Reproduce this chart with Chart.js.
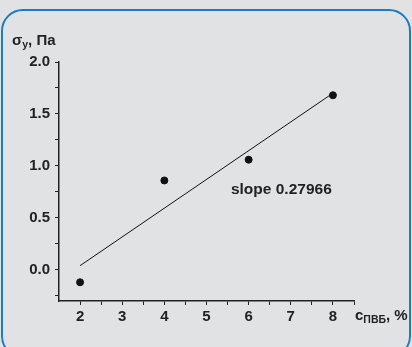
<!DOCTYPE html>
<html>
<head>
<meta charset="utf-8">
<script src="https://cdn.jsdelivr.net/npm/chart.js@4/dist/chart.umd.min.js"></script>
<style>
  html, body { margin: 0; padding: 0; background: #e1e2e4; }
  #wrap { position: relative; width: 412px; height: 347px; overflow: hidden; }
  #frame { position: absolute; left: 1px; top: 9px; width: 406px; height: 345px;
           border: 2px solid #1b7bc3; border-radius: 22px; }
  canvas { position: absolute; left: 0; top: 0; }
</style>
</head>
<body>
<div id="wrap">
  <div id="frame"></div>
  <canvas id="c" width="412" height="347"></canvas>
</div>
<script>
// Yield stress vs. PVB concentration, with linear fit
var concentration = [2, 4, 6, 8];
var yieldStress = [-0.12, 0.86, 1.06, 1.68];
var fitX = [2, 8];
var fitY = [0.04, 1.70];
var xTickLabels = [2, 3, 4, 5, 6, 7, 8];
var yTickLabels = [0.0, 0.5, 1.0, 1.5, 2.0];
var slopeText = 'slope 0.27966';

var ink = '#222';
var fam = '"Liberation Sans", Arial, sans-serif';
var font = 'bold 15px ' + fam;
var subFont = 'bold 10.5px ' + fam;

function pts(xs, ys) { return xs.map(function (x, i) { return { x: x, y: ys[i] }; }); }

var labelsPlugin = {
  id: 'labels',
  afterDraw: function (chart) {
    var ctx = chart.ctx, xs = chart.scales.x, ys = chart.scales.y;
    ctx.save();
    ctx.fillStyle = ink;
    ctx.textBaseline = 'alphabetic';
    // y axis title: σy, Па
    ctx.font = font;
    ctx.fillText('σ', 12, 45);
    var w = ctx.measureText('σ').width;
    ctx.font = subFont;
    ctx.fillText('y', 12 + w, 48);
    var w2 = ctx.measureText('y').width;
    ctx.font = font;
    ctx.fillText(', Па', 12 + w + w2, 45);
    // x axis title: cПВБ, %
    ctx.fillText('c', 355, 320);
    var cw = ctx.measureText('c').width;
    ctx.font = subFont;
    ctx.fillText('ПВБ', 355 + cw, 323);
    var sw = ctx.measureText('ПВБ').width;
    ctx.font = font;
    ctx.fillText(', %', 355 + cw + sw, 320);
    // slope annotation
    ctx.font = 'bold 15.5px ' + fam;
    ctx.fillText(slopeText, xs.getPixelForValue(5.58), ys.getPixelForValue(0.725));
    ctx.restore();
  }
};

new Chart(document.getElementById('c'), {
  type: 'scatter',
  data: {
    datasets: [{
      data: pts(concentration, yieldStress),
      backgroundColor: '#111',
      borderColor: '#111',
      pointRadius: 3.5,
      pointHoverRadius: 3.5
    }, {
      type: 'line',
      data: pts(fitX, fitY),
      borderColor: '#111',
      borderWidth: 1,
      pointRadius: 0,
      fill: false
    }]
  },
  options: {
    responsive: false,
    animation: false,
    events: [],
    layout: { padding: { left: 0, top: 62, right: 58, bottom: 0 } },
    plugins: { legend: { display: false }, tooltip: { enabled: false } },
    scales: {
      x: {
        type: 'linear', min: 1.5, max: 8.5,
        afterFit: function (s) { s.height = 46; },
        afterBuildTicks: function (s) {
          var t = [];
          for (var v = 1.5; v <= 8.5001; v += 0.5) t.push({ value: Math.round(v * 10) / 10 });
          s.ticks = t;
        },
        border: { display: true, color: ink, width: 1.5 },
        grid: { drawOnChartArea: false, drawTicks: true, tickLength: 4, color: ink,
                tickColor: function (c) { return c.tick && c.tick.value === 1.5 ? 'rgba(0,0,0,0)' : ink; } },
        ticks: {
          color: ink, font: { family: fam, size: 15, weight: 'bold' },
          padding: 3, maxRotation: 0, autoSkip: false,
          callback: function (v) { return xTickLabels.indexOf(v) >= 0 ? String(v) : ''; }
        }
      },
      y: {
        type: 'linear', min: -0.3, max: 2.0,
        afterFit: function (s) { s.width = 59; },
        afterBuildTicks: function (s) {
          var t = [];
          for (var v = -0.25; v <= 2.0001; v += 0.25) t.push({ value: Math.round(v * 100) / 100 });
          s.ticks = t;
        },
        border: { display: true, color: ink, width: 1.5 },
        grid: { drawOnChartArea: false, drawTicks: true, tickLength: 4, color: ink },
        ticks: {
          color: ink, font: { family: fam, size: 15, weight: 'bold' },
          padding: 5, autoSkip: false,
          callback: function (v) { return yTickLabels.indexOf(v) >= 0 ? v.toFixed(1) : ''; }
        }
      }
    }
  },
  plugins: [labelsPlugin]
});
</script>
</body>
</html>
